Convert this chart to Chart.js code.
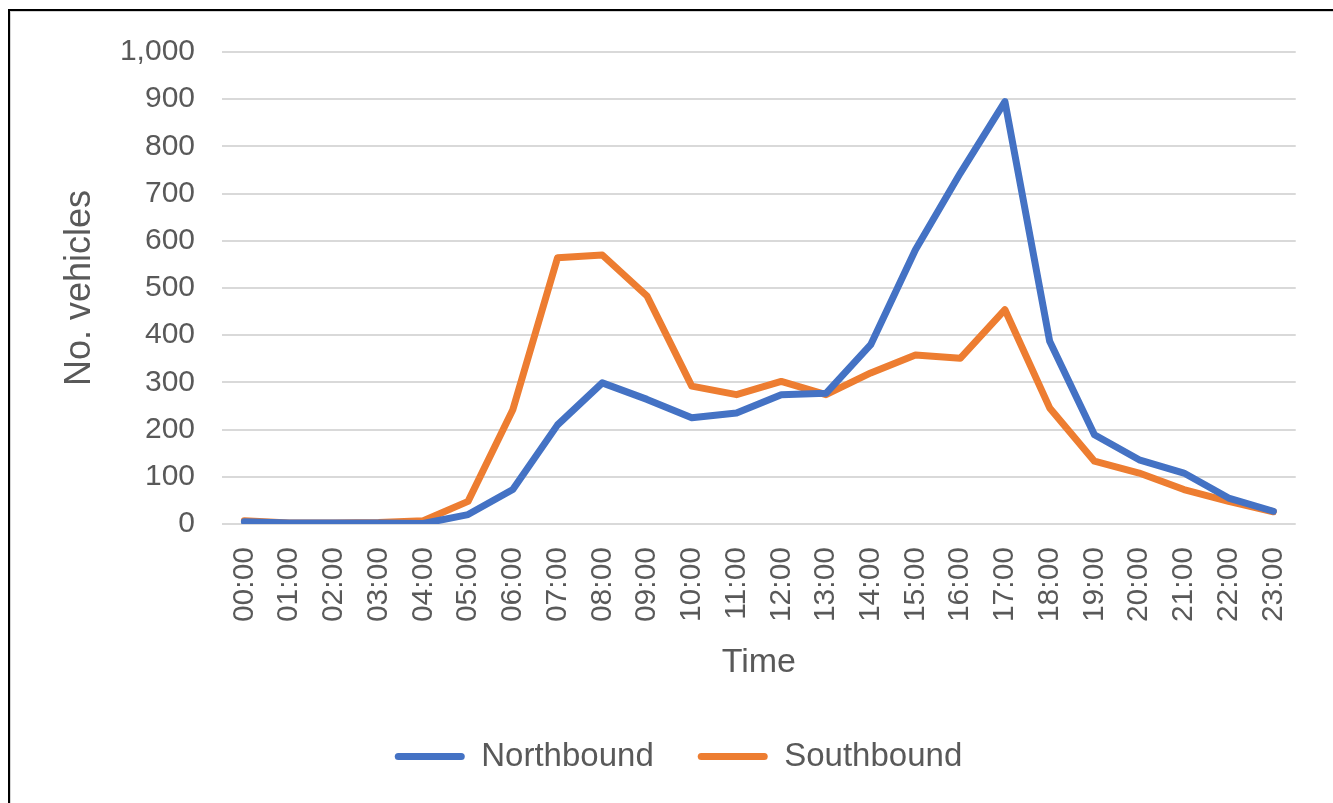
<!DOCTYPE html>
<html>
<head>
<meta charset="utf-8">
<script src="https://cdn.jsdelivr.net/npm/chart.js@4/dist/chart.umd.min.js"></script>
<style>
  html, body { margin: 0; padding: 0; background: #ffffff; }
  #wrap { position: relative; width: 1333px; height: 803px; overflow: hidden; }
  #frame {
    position: absolute; left: 8px; top: 9px; right: -4px; bottom: -4px;
    border-top: 2px solid #000; border-left: 2px solid #000;
    box-shadow: inset 1px 1px 0 #d4d4d4;
    pointer-events: none;
  }
  canvas { position: absolute; left: 0; top: 0; }
</style>
</head>
<body>
<div id="wrap">
  <canvas id="chart" width="1333" height="803"></canvas>
  <div id="frame"></div>
</div>
<script>
// Hourly vehicle counts by direction
const hours = ['00:00','01:00','02:00','03:00','04:00','05:00','06:00','07:00','08:00','09:00','10:00','11:00',
               '12:00','13:00','14:00','15:00','16:00','17:00','18:00','19:00','20:00','21:00','22:00','23:00'];
const northbound = [5, 2, 2, 2, 1, 20, 73, 210, 299, 264, 225, 235, 274, 277, 380, 581, 743, 895, 387, 189, 136, 108, 55, 27];
const southbound = [7, 2, 2, 3, 7, 48, 242, 564, 570, 483, 292, 274, 302, 274, 320, 358, 351, 454, 246, 133, 108, 73, 48, 26];
const yTicks = [0, 100, 200, 300, 400, 500, 600, 700, 800, 900, 1000];

const textColor = '#595959';
const family = '"Liberation Sans", Arial, sans-serif';

// Nudges the legend row a little to the right of the default centre
const legendShift = {
  id: 'legendShift',
  afterLayout(chart) {
    const lg = chart.legend;
    if (lg) { lg.left += 16; lg.right += 16; }
  }
};

new Chart(document.getElementById('chart'), {
  type: 'line',
  data: {
    labels: hours,
    datasets: [
      { label: 'Northbound', data: northbound, borderColor: '#4472C4', backgroundColor: '#4472C4' },
      { label: 'Southbound', data: southbound, borderColor: '#ED7D31', backgroundColor: '#ED7D31' }
    ]
  },
  plugins: [legendShift],
  options: {
    responsive: false,
    animation: false,
    devicePixelRatio: 1,
    layout: { padding: { top: 52, right: 30, bottom: 20, left: 22 } },
    elements: {
      line: { borderWidth: 7, tension: 0, borderCapStyle: 'round', borderJoinStyle: 'round' },
      point: { radius: 0, hoverRadius: 0 }
    },
    plugins: {
      tooltip: { enabled: false },
      legend: {
        position: 'bottom',
        labels: {
          color: textColor,
          font: { family, size: 33 },
          boxWidth: 70,
          boxHeight: 7,
          padding: 44,
          useBorderRadius: true,
          generateLabels(chart) {
            return chart.data.datasets.map((ds, i) => ({
              text: ds.label,
              fillStyle: ds.borderColor,
              strokeStyle: ds.borderColor,
              lineWidth: 0,
              borderRadius: 3.5,
              fontColor: textColor,
              datasetIndex: i,
              hidden: false
            }));
          }
        }
      }
    },
    scales: {
      x: {
        offset: true,
        grid: { display: false, drawTicks: false },
        border: { display: false },
        ticks: {
          color: textColor,
          font: { family, size: 30 },
          minRotation: 90,
          maxRotation: 90,
          autoSkip: false,
          padding: 23
        },
        title: {
          display: true,
          text: 'Time',
          color: textColor,
          font: { family, size: 34 },
          padding: { top: 0, bottom: 13 }
        },
        afterFit(scale) { scale.height = 172; }
      },
      y: {
        min: 0,
        max: 1000,
        grid: { color: '#d9d9d9', lineWidth: 2, drawTicks: false },
        border: { display: false },
        afterBuildTicks(scale) { scale.ticks = yTicks.map(v => ({ value: v })); },
        ticks: {
          color: textColor,
          font: { family, size: 30 },
          padding: 27,
          callback: v => v.toLocaleString('en-US')
        },
        title: {
          display: true,
          text: 'No. vehicles',
          color: textColor,
          font: { family, size: 36 },
          padding: { top: 36, bottom: 0 }
        },
        afterFit(scale) { scale.width = 200; }
      }
    }
  }
});
</script>
</body>
</html>
